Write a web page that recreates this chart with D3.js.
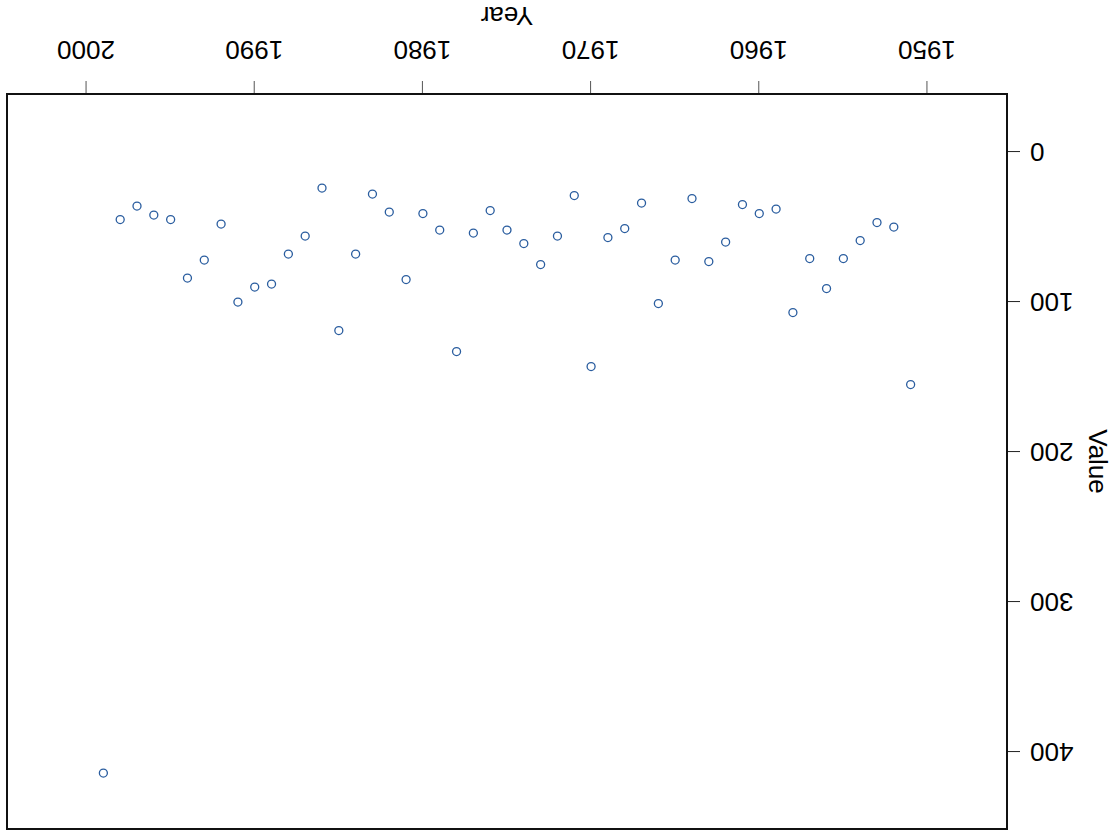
<!DOCTYPE html>
<html>
<head>
<meta charset="utf-8">
<script src="https://cdn.jsdelivr.net/npm/d3@7"></script>
<style>
  html, body { margin: 0; padding: 0; background: #fff; }
  svg { display: block; }
</style>
</head>
<body>
<svg id="chart" width="1114" height="835"></svg>
<script>
// Annual observations, one value per year
const years = [1951, 1952, 1953, 1954, 1955, 1956, 1957, 1958, 1959, 1960,
               1961, 1962, 1963, 1964, 1965, 1966, 1967, 1968, 1969, 1970,
               1971, 1972, 1973, 1974, 1975, 1976, 1977, 1978, 1979, 1980,
               1981, 1982, 1983, 1984, 1985, 1986, 1987, 1988, 1989, 1990,
               1991, 1992, 1993, 1994, 1995, 1996, 1997, 1998, 1999];
const values = [155, 50, 47, 59, 71, 91, 71, 107, 38, 41,
                35, 60, 73, 31, 72, 101, 34, 51, 57, 143,
                29, 56, 75, 61, 52, 39, 54, 133, 52, 41,
                85, 40, 28, 68, 119, 24, 56, 68, 88, 90,
                100, 48, 72, 84, 45, 42, 36, 45, 414];
const xTicks = [1950, 1960, 1970, 1980, 1990, 2000];
const yTicks = [0, 100, 200, 300, 400];
const xTitle = "Year";
const yTitle = "Value";

const FONT = '"Liberation Sans", Arial, Helvetica, sans-serif';
const W = 1114, H = 835;
const margin = { left: 107, right: 7, top: 6, bottom: 94 };
const iw = W - margin.left - margin.right;
const ih = H - margin.top - margin.bottom;

const svg = d3.select("#chart");
// The whole figure is drawn turned half a revolution
const root = svg.append("g").attr("transform", `rotate(180 ${W / 2} ${H / 2})`);
const g = root.append("g").attr("transform", `translate(${margin.left},${margin.top})`);

const x = d3.scaleLinear().domain([1945.27, 2004.73]).range([0, iw]);
const y = d3.scaleLinear().domain([-38.7, 451.3]).range([ih, 0]);

// Axes
const xAxis = g.append("g")
  .attr("transform", `translate(0,${ih})`)
  .call(d3.axisBottom(x).tickValues(xTicks).tickFormat(d3.format("d")).tickSize(13).tickPadding(22));
const yAxis = g.append("g")
  .call(d3.axisLeft(y).tickValues(yTicks).tickSize(13).tickPadding(10));

[xAxis, yAxis].forEach(a => {
  a.attr("font-family", FONT).attr("font-size", 26);
  a.select(".domain").remove();
  a.selectAll("text").attr("fill", "#000");
});
xAxis.selectAll(".tick line").attr("stroke", "#555").attr("stroke-width", 1);
yAxis.selectAll(".tick line").attr("stroke", "#222").attr("stroke-width", 1);

// Frame
g.append("rect")
  .attr("x", 0).attr("y", 0).attr("width", iw).attr("height", ih)
  .attr("fill", "none").attr("stroke", "#111").attr("stroke-width", 2);

// Points
const data = years.map((yr, i) => ({ year: yr, value: values[i] }));
g.append("g").selectAll("circle")
  .data(data)
  .join("circle")
  .attr("cx", d => x(d.year))
  .attr("cy", d => y(d.value))
  .attr("r", 4)
  .attr("fill", "none")
  .attr("stroke", "#2a5d9f")
  .attr("stroke-width", 1.3);

// Axis titles
g.append("text")
  .attr("x", iw / 2).attr("y", ih + 87)
  .attr("text-anchor", "middle")
  .attr("font-family", FONT)
  .attr("font-size", 26)
  .text(xTitle);
g.append("text")
  .attr("transform", `translate(${-82},${ih / 2}) rotate(-90)`)
  .attr("text-anchor", "middle")
  .attr("font-family", FONT)
  .attr("font-size", 26)
  .text(yTitle);
</script>
</body>
</html>
